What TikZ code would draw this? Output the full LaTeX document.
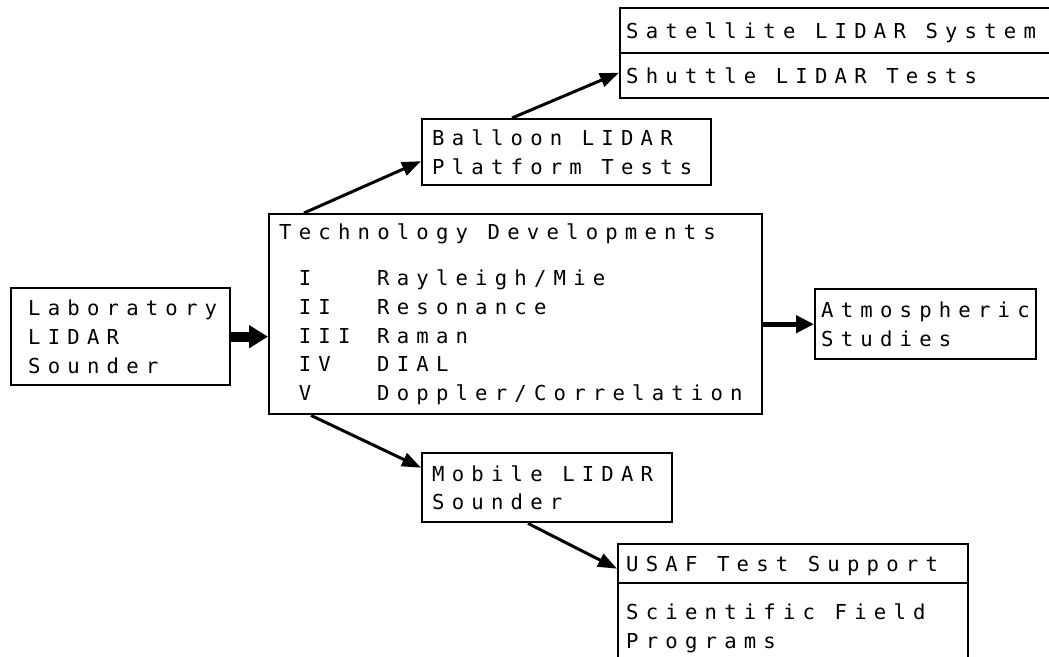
\documentclass[tikz,border=0pt]{standalone}
\usepackage{fontspec}
\newfontfamily\plotfont[LetterSpace=35]{DejaVu Sans Mono}
\usetikzlibrary{positioning, arrows.meta}
\newcommand\wsp{\nobreak\hspace{19.6pt}}
\newcommand\rnum[1]{\hspace*{19.6pt}\makebox[78.4pt][l]{#1}}
\tikzset{
  lidarbox/.style={draw, line width=2.4pt, anchor=north west, align=left,
    inner ysep=0pt, font=\plotfont\fontsize{20.6}{28.7}\selectfont},
  oneline/.style={text height=15pt, text depth=0pt},
  thin/.style={line width=3pt, -{Triangle[length=19pt, width=14pt]}},
  heavy/.style={line width=10pt, -{Triangle[length=19pt, width=22pt]}},
  medium/.style={line width=5pt, -{Triangle[length=18pt, width=17pt]}}
}
\begin{document}
\begin{tikzpicture}[x=1pt, y=-1pt]
  \clip (0,0) rectangle (1049,656);
  \node[lidarbox, inner xsep=17pt, text width=185pt, minimum height=97pt] (lab) at (10,287)
    {Laboratory\\LIDAR\\Sounder};
  \node[lidarbox, inner xsep=10pt, text width=473pt, minimum height=200pt] (tech) at (268,213)
    {Technology\wsp Developments\\[18pt]
     \rnum{I}Rayleigh/Mie\\
     \rnum{II}Resonance\\
     \rnum{III}Raman\\
     \rnum{IV}DIAL\\
     \rnum{V}Doppler/Correlation};
  \node[lidarbox, inner xsep=10pt, text width=269pt, minimum height=66pt] (balloon) at (421,118)
    {Balloon\wsp LIDAR\\Platform\wsp Tests};
  \node[lidarbox, oneline, inner xsep=6pt, text width=448pt, minimum height=45pt] (sat) at (619,7)
    {Satellite\wsp LIDAR\wsp System};
  \node[lidarbox, oneline, inner xsep=6pt, text width=448pt, minimum height=45pt] (shuttle) at (619,52)
    {Shuttle\wsp LIDAR\wsp Tests};
  \node[lidarbox, inner xsep=6pt, text width=209pt, minimum height=70pt] (atmos) at (814,288)
    {Atmospheric\\Studies};
  \node[lidarbox, inner xsep=10pt, text width=230pt, minimum height=69pt] (mobile) at (421,452)
    {Mobile\wsp LIDAR\\Sounder};
  \node[lidarbox, oneline, inner xsep=8pt, text width=334pt, minimum height=39pt] (usaf) at (617,543)
    {USAF\wsp Test\wsp Support};
  \node[lidarbox, inner xsep=8pt, text width=334pt, minimum height=90pt] (field) at (617,582)
    {Scientific\wsp Field\\Programs};

  \draw[heavy] (lab.east) -- (lab.east -| tech.west);
  \draw[medium] (tech.east |- atmos.west) -- (atmos.west);
  \draw[thin] ([xshift=36pt]tech.north west) -- ([yshift=-9pt]balloon.west);
  \draw[thin] ([xshift=91pt]balloon.north west) -- ([yshift=3pt]shuttle.west);
  \draw[thin] ([xshift=43pt]tech.south west) -- ([yshift=20pt]mobile.west);
  \draw[thin] ([xshift=107pt]mobile.south west) -- ([yshift=-5pt]usaf.west);
\end{tikzpicture}
\end{document}
